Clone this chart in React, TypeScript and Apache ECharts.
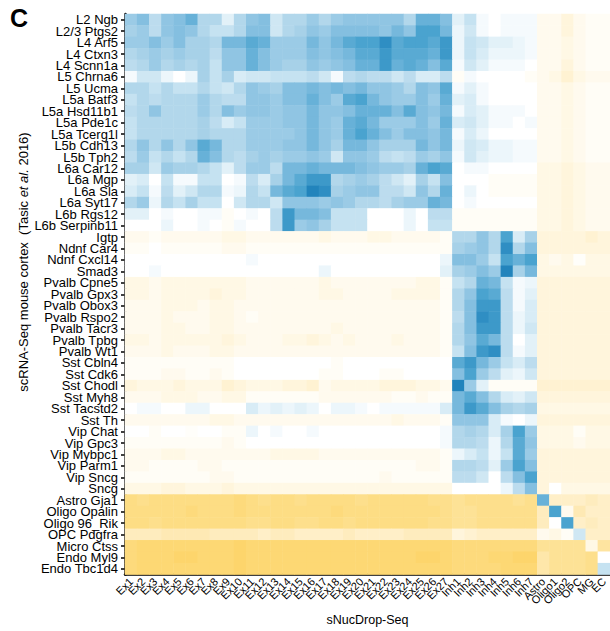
import React, { useEffect, useRef } from "react";
import * as echarts from "echarts";

const xCategories = [
  "Ex1", "Ex2", "Ex3", "Ex4", "Ex5", "Ex6", "Ex7", "Ex8", "Ex9", "Ex10",
  "Ex11", "Ex12", "Ex13", "Ex14", "Ex15", "Ex16", "Ex17", "Ex18", "Ex19", "Ex20",
  "Ex21", "Ex22", "Ex23", "Ex24", "Ex25", "Ex26", "Ex27",
  "Inh1", "Inh2", "Inh3", "Inh4", "Inh5", "Inh6", "Inh7",
  "Astro", "Oligo1", "Oligo2", "OPC", "MG", "EC",
];

const yCategories = [
  "L2 Ngb", "L2/3 Ptgs2", "L4 Arf5", "L4 Ctxn3", "L4 Scnn1a", "L5 Chrna6", "L5 Ucma",
  "L5a Batf3", "L5a Hsd11b1", "L5a Pde1c", "L5a Tcerg1l", "L5b Cdh13", "L5b Tph2",
  "L6a Car12", "L6a Mgp", "L6a Sla", "L6a Syt17", "L6b Rgs12", "L6b Serpinb11",
  "Igtp", "Ndnf Car4", "Ndnf Cxcl14", "Smad3", "Pvalb Cpne5", "Pvalb Gpx3", "Pvalb Obox3",
  "Pvalb Rspo2", "Pvalb Tacr3", "Pvalb Tpbg", "Pvalb Wt1", "Sst Cbln4", "Sst Cdk6",
  "Sst Chodl", "Sst Myh8", "Sst Tacstd2", "Sst Th", "Vip Chat", "Vip Gpc3", "Vip Mybpc1",
  "Vip Parm1", "Vip Sncg", "Sncg",
  "Astro Gja1", "Oligo Opalin", "Oligo 96_Rik", "OPC Pdgfra", "Micro Ctss", "Endo Myl9", "Endo Tbc1d4",
];

// similarity scores (positive = blue, negative = yellow), one row per scRNA-Seq type
const excitatoryRows = [
  [5,6,3.5,5.5,6,7,4,4,1.5,4,5.5,6,2.5,4,4,5,4,5,5.5,5.5,5.5,5.5,5.5,4,7,7,6, 1.5,3,0.5,0,0.5,0.5,0.5, -1,-1,-2,-1,-0.5,-0.5],
  [4.5,5,3.5,5.5,6,5.5,4,3,3,4,6,6,2.5,4,4.5,5.5,5,6,6,6,6,5.5,6.5,5.5,8,8,6.5, 1,2.5,0.5,0,0.5,0.5,0.5, -1,-1,-2,-1,-0.5,-0.5],
  [5,5,6,5,6,4.5,4.5,4,6.5,6.5,7.5,7,5,5,5,6.5,5.5,6.5,7.5,8,8,9,7.5,8,8,7.5,8.5, 1,3,2.5,1.5,1.5,1,0.5, -1,-1,-1.5,-1,-0.5,-0.5],
  [4,4.5,5,4.5,5,4.5,4.5,3.5,5.5,5.5,7,6,5,5,5,6,5.5,6,6.5,7.5,7.5,8.5,7.5,7.5,7.5,7,8.5, 1,3,2,1,1,1,0.5, -1,-1,-1.5,-1,-0.5,-0.5],
  [3.5,4,5,4,4.5,4,4.5,3,5.5,5.5,7,6,5,4.5,4.5,5.5,5,5.5,6,7,7,8.5,7,7.5,7,6,7.5, 0.5,2.5,1.5,0.5,0.5,0.5,0, -1,-1,-2,-1,-0.5,-0.5],
  [0.5,2.5,2.5,1,0,1,4.5,3,4.5,2,2.5,2.5,3,3,3,3.5,2.5,0.5,3.5,4,3.5,3.5,2.5,3.5,2,2,3.5, -0.5,0.5,0,0,0,0,-0.5, -1,-1.5,-2.5,-1.5,-1,-1],
  [4,4,3,4,3,3,4,3,2.5,4,5.5,5,4.5,6,6,6.5,6,6.5,6,6.5,5.5,5.5,5,4,6,5.5,7.5, 0.5,1.5,0.5,0,0,0,0, -1,-1,-1.5,-1,-0.5,-0.5],
  [3,4,3.5,4,4,4,5,4,3.5,3.5,5.5,5.5,5,6,6,7,6,5,7.5,8,6.5,5.5,5,5,6,5,7, 1.5,2,0.5,0,0,0,0, -1,-1,-1.5,-1,-0.5,-0.5],
  [3.5,4,5.5,4,4,4,5,4,6,5,5.5,5.5,5,5.5,5.5,6.5,5.5,5.5,6,7,7,7,6,7.5,6,5.5,6.5, 0.5,2,1.5,0.5,0.5,0.5,0, -1,-1,-1.5,-1,-0.5,-0.5],
  [3,4,4,4,4,4,4.5,3.5,2,3,5,5,5,5.5,5.5,6.5,5.5,5,7,7.5,6.5,5,5,5,6,5,7, 2,2.5,1.5,0.5,0.5,0,0.5, -1,-1,-1.5,-1,-0.5,-0.5],
  [3,4,4,4,4,4,4.5,4,4,4,5,5,5,5,5.5,6.5,5.5,5,7,8,7,6,5,6,6,5.5,6.5, 0.5,2,1,0,0,0,0, -1,-1,-1.5,-1,-0.5,-0.5],
  [4,5.5,4,5.5,4,5.5,7.5,6.5,4,4,5,5,5,5.5,5.5,6.5,5.5,4.5,6.5,6.5,5.5,4.5,4.5,4.5,6.5,5.5,6.5, 1,2.5,2,1,1,0.5,0.5, -1,-1,-1.5,-1,-0.5,-0.5],
  [3.5,5,3,4,3,4,7,6,4,3.5,4.5,5,4.5,5,5,5.5,5,2.5,5.5,5.5,5,3.5,3,3.5,5,4.5,5.5, 0.5,2.5,1.5,1,1,0.5,0.5, -1,-1,-1.5,-1,-0.5,-0.5],
  [4.5,4.5,2.5,5,4.5,4.5,4,3,1.5,3.5,5,5,3.5,6.5,6.5,7,6.5,6.5,6.5,6,5.5,5,5,4.5,7,8,7.5, 0,0.5,0.5,0,0,0,0, -1.5,-1.5,-2,-1.5,-1,-1],
  [1.5,2,0,3,0.5,0.5,3,3,0,0.5,3.5,2,4.5,6.5,7.5,8.5,8.5,4,4.5,5,4.5,3.5,2.5,1.5,4.5,3,6, 0,0,0,-0.5,-0.5,-0.5,-0.5, -1.5,-1.5,-2,-1.5,-1,-1],
  [2,3,0.5,3.5,1.5,2.5,4,4,0.5,1,4,3,6.5,7.5,8,9.5,9,4.5,5,5.5,5.5,3.5,3.5,2.5,5.5,4,7, 0,1,0,-0.5,-0.5,-0.5,-0.5, -1.5,-1.5,-2,-1.5,-1,-1],
  [4,5,1,4,3,4.5,3,3,0,2.5,4,4,2.5,5.5,5.5,5.5,5,5.5,5,4,4,3.5,4.5,5,5,7,6.5, 0,0.5,0,0,0,0,0, -1.5,-1.5,-2,-1.5,-1,-1],
  [1.5,1.5,0,0.5,0,0,0.5,0.5,-0.5,0,0.5,0,3.5,8.5,6.5,6.5,6,3,3,3,0,0,0,1,0,3.5,3.5, -0.5,-0.5,-0.5,-0.5,-0.5,-0.5,-0.5, -1.5,-1.5,-2,-1.5,-1,-1],
  [0,0,0,1,0,0,0.5,0,-0.5,0.5,0,0,3.5,8.5,5,5.5,4.5,3,3,3,0,0,0,1,0,3,3, -0.5,-0.5,-0.5,-0.5,-0.5,-0.5,-0.5, -1.5,-1.5,-2,-1.5,-1,-1],
];

const inhibitoryRows = [
  [-1,-1,-0.5,-1,-1,-1,-1,-1,-1.5,-1.5,-1,-1,-1,-1,-1,-1,-1.5,-1,-1,-1,-1.5,-1.5,-1,-1,-1,-1,-0.5, 4,4,5.5,4,8,2,4.5, -2,-2,-2,-2,-2.5,-2],
  [-0.5,-0.5,0,-0.5,-0.5,-0.5,-0.5,-0.5,-1,-1,-0.5,-0.5,-0.5,-0.5,-0.5,-0.5,-0.5,-0.5,-0.5,-0.5,-0.5,-0.5,-0.5,-0.5,-0.5,-0.5,-0.5, 4.5,5,5.5,4,9,4,6, -2,-2,-2,-2,-2,-2],
  [0,0,0,0,0,0,0,0,0,0,0.5,0,0,0,0,0,0,0,0,0,0,0,0,0,0,0,1, 6,6,5,3,8,7,8, -1.5,-1,-1.5,-0.3,-1.5,-1.5],
  [0,0,0.5,0,0,0,0,0,0,0,0,0,0,0,0,0,1,0,0,0,0,0,0,0,0,0,1.5, 4.5,5,6,5,9.5,4.5,6.5, -1.5,-1.5,-1.5,-1.5,-1.5,-1.5],
  [-1.5,-1.5,-1,-1.5,-1.5,-1.5,-1.5,-1.5,-1.5,-1.5,-1,-1,-1,-1,-1,-1,-1.5,-1,-1,-1,-1,-1,-1,-1,-1.5,-1.5,-0.5, 3,4,7,6.5,3,0.5,1, -2,-2,-2,-2,-2,-2],
  [-1.5,-1.5,-1,-1.5,-1.5,-1.5,-1.5,-2,-1.5,-1.5,-1,-1,-1,-1,-1,-1,-1.5,-1.5,-1,-1,-1,-1,-1.5,-1.5,-1.5,-1.5,-0.5, 4,5.5,8,7.5,3.5,0.5,1.5, -2,-2,-2,-2,-2,-2],
  [-1,-1,-1,-1.5,-1.5,-1.5,-1,-1.5,-1.5,-1,-1,-1,-1,-1,-1,-1,-1,-1,-1,-1,-1,-1,-1,-1,-1,-1,-0.5, 4,6,8.5,8.5,3.5,0.5,2, -2,-2,-2,-2,-2,-2],
  [-1,-1,-1,-1.5,-1,-1,-1,-1.5,-1.5,-1,-0.5,-1,-1,-1,-1,-1,-1,-1,-1,-1,-1,-1,-1,-1,-1,-1,-0.5, 3.5,6,9,8.5,3.5,1,2, -2,-2,-2,-2,-2,-2],
  [-1,-1,-1,-1.5,-1.5,-1,-1,-1.5,-1.5,-1,-1,-1,-1,-1,-1,-1,-1,-1.5,-1,-1,-1,-1,-1,-1,-1,-1,-0.5, 4,6,8.5,8.5,3.5,1,2.5, -2,-2,-2,-2,-2,-2],
  [-1.5,-1.5,-1,-1.5,-1.5,-1.5,-1.5,-1.5,-2,-1.5,-1,-1,-1,-1.5,-1.5,-2,-1.5,-1,-1.5,-1,-1,-1,-1.5,-1,-1,-1,-0.5, 4,5.5,7.5,6.5,3.5,0,1.5, -2,-2,-2,-2,-2,-2],
  [-1,-1,-1,-1.5,-1,-1,-1,-1.5,-1.5,-1,-1,-1,-1,-1,-1,-1,-1,-1,-1,-1,-1,-1,-1,-1,-1,-1,-0.5, 3,6,8.5,9,3.5,0.5,1.5, -2,-2,-2,-2,-2,-2],
  [-0.5,-0.5,-0.5,-0.5,-0.5,-0.5,-0.5,-0.5,-0.5,0,0,0,0,0,0,0,0,-0.5,0,0,0,0,0,0,0,0,0, 7.5,8.5,6.5,5,3,2,3.5, -2,-2,-2,-2,-2,-2],
  [-0.5,-0.5,-0.5,-1,-1,-0.5,-0.5,-1,-0.5,0,0,0,0,0,0,0,-0.5,-0.5,0,0,0,-0.5,-0.5,0,0,0,0, 6,8,5,3.5,1.5,1,2.5, -2,-2,-2,-2,-2,-2],
  [-2,-1.5,-1.5,-1.5,-2,-1.5,-1.5,-1.5,-2.5,-2,-1.5,-1.5,-1.5,-2,-2,-2.5,-1,-1.5,-1.5,-1.5,-1.5,-2,-2,-2,-1.5,-1.5,-1, 9.5,5,1.5,-0.5,-0.5,-0.5,-0.5, -2.5,-2.5,-2.5,-2.5,-2.5,-2.5],
  [-1,-1,-1,-1.5,-1.5,-1.5,-1,-1,-1.5,-1.5,-0.5,-0.5,-0.5,-0.5,-0.5,-0.5,-1,-1,-1,-1,-1,-1,-0.5,-0.5,-1,-0.5,-0.5, 6.5,7.5,6,4,2,1.5,2.5, -2,-2,-2,-2,-2,-2],
  [0,0.5,0.5,0,0,1,1,0,0,0,2,1,1.5,1,1.5,1,0,1,1,0.5,0,0.5,0.5,0.5,0.5,0.5,2, 6.5,8.5,7.5,6,4.5,4,4.5, -1.5,-1.5,-1.5,-1.5,-1.5,-1.5],
  [-1,-1,-1,-1,-1,-1,-1,-1.5,-1.5,-1,-1,-1,-1,-1,-1,-1,-1,-1,-1,-1,-1,-1,-1.5,-1,-1,-1,-0.5, 5.5,5.5,5.5,2,0.5,0,1, -2,-2,-2,-2,-2,-2],
  [0,0,-0.5,0,0,-0.3,0,0,-0.5,-0.5,1,0,0.5,0,0,0.5,0,0,0,0,0,0,0,0,0,0,0.5, 4,4.5,4,2,4.5,8,5, -1.5,-1.5,-1.5,-0.5,-1.5,-1.5],
  [-0.5,-0.5,-0.5,-0.5,-0.5,-0.5,-0.5,-0.5,-1,-0.5,0,0,0,0,0,0,0,0,0,0,0,0,0,0,0,0,0.5, 4,4,3.5,1,4,7.5,5.5, -1.5,-1.5,-1.5,-1,-1.5,-1.5],
  [-1,-1,-1,-1.5,-1.5,-1,-1,-1,-1,-1,-1,-1,-1.5,-1.5,-1.5,-1.5,-1,-1,-1,-1,-1,-1,-1,-1,-1,-1,-0.5, 1,2,3,1,3,7.5,5, -2,-2,-2,-2,-2,-2],
  [-1,-1,-0.5,-0.5,-0.5,-0.5,-1,-1,-0.5,-0.5,-0.5,-0.5,-0.5,-0.5,-0.5,-0.5,-0.5,-0.5,-0.5,-0.5,-0.5,-0.5,-0.5,-0.5,-1,-1,-0.5, 4,4,3.5,1.5,5,8,6, -2,-2,-2,-2,-2,-2],
  [-0.5,-0.5,-0.5,-0.5,-0.5,-0.5,-0.5,-1,-1,-0.5,-0.5,-0.5,-0.5,-0.5,-0.5,-0.5,-0.5,-0.5,-0.5,-0.5,-0.5,-1,-0.5,-0.5,-0.5,-0.5,-0.5, 3.5,3.5,2.5,0,3.5,6,8, -2,-2,-2,-2,-2,-2],
  [-1.5,-1.5,-1.5,-2,-2,-1.5,-1.5,-1.5,-2,-1.5,-1.5,-1.5,-1.5,-1.5,-1.5,-1.5,-1.5,-1.5,-1.5,-1.5,-1.5,-1.5,-1.5,-1.5,-1.5,-1.5,-1.5, 0,0,0,0,1,3.5,6, -2,0,-1.5,-1.5,-1.5,-1.5],
];

const nonNeuronalRows = [
  [-6.5,-6,-6.5,-6.5,-6.5,-6.5,-6.5,-6.5,-6.5,-7,-6.5,-6,-6.5,-6.5,-6,-6.5,-6.5,-6.5,-6.5,-6,-6.5,-6.5,-6.5,-6.5,-6.5,-6,-6, -5.5,-6,-6,-6,-6,-5.5,-6, 7,-3,-3,-3,-3.5,-3],
  [-6.5,-6.5,-6.5,-6.5,-6.5,-7,-6.5,-6.5,-6.5,-7,-6.5,-6.5,-6.5,-6.5,-6.5,-6.5,-6.5,-7,-6.5,-6.5,-6.5,-6.5,-6.5,-6.5,-6.5,-6.5,-6, -5.5,-5.5,-6,-6,-6,-6,-6, -3.5,8,-1,-4,-3,-3],
  [-6.5,-6.5,-6,-6.5,-6.5,-6.5,-6.5,-6.5,-6.5,-6.5,-6,-6,-6.5,-6.5,-6,-6,-6.5,-6.5,-6,-6.5,-6.5,-6.5,-6.5,-6.5,-6.5,-6,-6, -5.5,-5.5,-6,-6,-6,-6,-6, -3.5,0,8,-3,-3.5,-3],
  [-3.5,-3.5,-3.5,-4,-4,-4,-4,-3.5,-3.5,-3.5,-3.5,-3,-3.5,-3.5,-3,-3,-3,-3,-3.5,-3,-3,-3,-3,-3.5,-3.5,-3.5,-3.5, -2,-2.5,-3,-3,-3,-3,-3, -1,-1.5,-0.5,2.5,-3,-3],
  [-7,-7.5,-7.5,-7.5,-7.5,-7.5,-7.5,-7.5,-7.5,-8,-7.5,-7.5,-7.5,-7.5,-7.5,-7.5,-7.5,-7.5,-7.5,-7.5,-7.5,-7.5,-7.5,-7.5,-7.5,-7.5,-7.5, -7,-7,-7,-7,-7,-7,-7, -5.5,-5.5,-5.5,-5.5,-1.5,-5],
  [-7,-7.5,-7.5,-7.5,-8,-8,-7.5,-7.5,-7.5,-8,-7.5,-7.5,-7.5,-7.5,-7.5,-7.5,-7.5,-7.5,-7.5,-7.5,-7.5,-7.5,-7.5,-7.5,-8,-8,-7.5, -7,-7,-7,-7.5,-7.5,-8,-8, -4.5,-5.5,-5.5,-5.5,-6,0],
  [-7,-7.5,-7.5,-7.5,-7.5,-7.5,-7.5,-7.5,-7.5,-8,-7.5,-7.5,-7.5,-7.5,-7.5,-7.5,-7.5,-7.5,-7.5,-7.5,-7.5,-7.5,-7.5,-7.5,-7.5,-7.5,-7.5, -7,-7,-7,-7,-7.5,-7.5,-7.5, -4.5,-5.5,-5.5,-5.5,-6,3],
];

const colorStops = [
  "#fccb4e", "#fdd56c", "#fddf8c", "#fee9b4", "#fff5dc", "#ffffff",
  "#d8ecf6", "#b2d7eb", "#84bfe0", "#4aa3cf", "#1479b6",
];

const FONT = "'Liberation Sans', Arial, Helvetica, sans-serif";

export default function App() {
  const ref = useRef<HTMLDivElement>(null);

  useEffect(() => {
    if (!ref.current) return;
    const chart = echarts.init(ref.current, undefined, { renderer: "svg" });
    const rows = [...excitatoryRows, ...inhibitoryRows, ...nonNeuronalRows];
    const data: number[][] = [];
    rows.forEach((row, y) => row.forEach((v, x) => data.push([x, y, v])));

    chart.setOption({
      animation: false,
      backgroundColor: "#ffffff",
      textStyle: { fontFamily: FONT },
      grid: { left: 125, top: 14, width: 486, height: 568, containLabel: false },
      visualMap: {
        show: false,
        type: "continuous",
        min: -10,
        max: 10,
        dimension: 2,
        inRange: { color: colorStops },
      },
      xAxis: {
        type: "category",
        data: xCategories,
        position: "bottom",
        splitArea: { show: false },
        splitLine: { show: false },
        axisLine: { show: true, onZero: false, lineStyle: { color: "#000", width: 2.5 } },
        axisTick: { show: false },
        axisLabel: {
          interval: 0,
          rotate: 45,
          fontSize: 11,
          lineHeight: 11,
          color: "#000",
          margin: 5,
          fontFamily: FONT,
        },
        name: "sNucDrop-Seq",
        nameLocation: "middle",
        nameGap: 31,
        nameTextStyle: { fontSize: 12.5, color: "#000", fontFamily: FONT },
      },
      yAxis: {
        type: "category",
        data: yCategories,
        inverse: true,
        splitArea: { show: false },
        splitLine: { show: false },
        axisLine: { show: true, onZero: false, lineStyle: { color: "#000", width: 2.5 } },
        axisTick: {
          show: true,
          alignWithLabel: true,
          length: 4,
          lineStyle: { color: "#000", width: 1.5 },
        },
        axisLabel: {
          interval: 0,
          fontSize: 13,
          lineHeight: 11,
          color: "#000",
          margin: 7,
          fontFamily: FONT,
        },
      },
      graphic: [
        {
          type: "text",
          x: 10,
          y: 17.5,
          style: {
            text: "C",
            font: `bold 25px ${FONT}`,
            fill: "#000",
            verticalAlign: "middle",
            align: "left",
          },
        },
        {
          type: "text",
          x: 23,
          y: 262,
          rotation: Math.PI / 2,
          style: {
            text: "scRNA-Seq mouse cortex  (Tasic {i|et al.} 2016)",
            font: `13px ${FONT}`,
            fill: "#000",
            align: "center",
            verticalAlign: "middle",
            rich: {
              i: { fontStyle: "italic", fontSize: 13, fill: "#000", fontFamily: FONT },
            },
          },
        },
      ],
      series: [
        {
          type: "heatmap",
          data,
          itemStyle: { borderWidth: 0 },
          emphasis: { disabled: true },
          progressive: 0,
        },
      ],
    });

    return () => chart.dispose();
  }, []);

  return (
    <div
      ref={ref}
      style={{ position: "fixed", left: 0, top: 0, width: 610, height: 631 }}
    />
  );
}
